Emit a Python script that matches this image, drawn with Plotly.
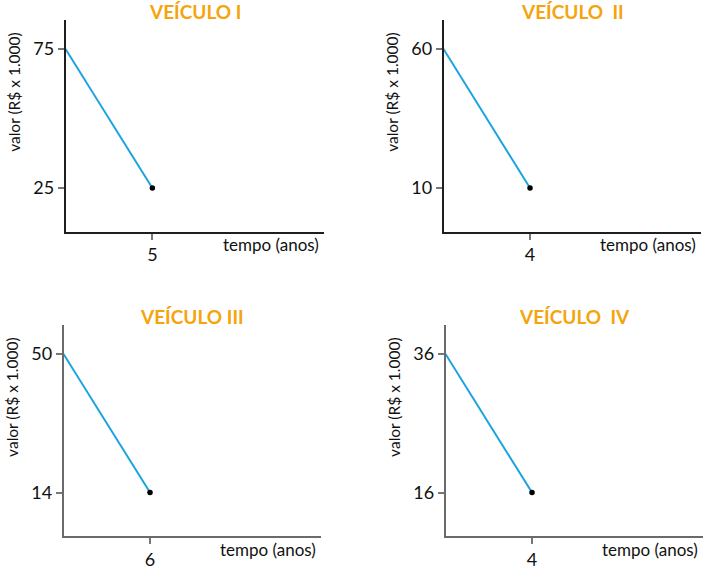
import plotly.graph_objects as go

# dados dos quatro veículos
veiculos = ["VEÍCULO I", "VEÍCULO  II", "VEÍCULO III", "VEÍCULO  IV"]
valor_inicial = [75, 60, 50, 36]
valor_final = [25, 10, 14, 16]
tempo_final = [5, 4, 6, 4]

W, H = 704, 570
# caixas de cada painel em pixels (esquerda, direita, topo, base)
caixas = [(65.5, 324, 20, 236), (443.5, 701, 20, 236),
          (63.5, 321, 330.5, 546), (445.5, 703, 330.5, 546)]
cores_eixo = ["#1e1e1e", "#1e1e1e", "#6a6a6a", "#6a6a6a"]
frac_x = 0.336
frac_lo, frac_hi = 0.207, 0.862

fonte = "Lato"

fig = go.Figure()
anot = []

for i in range(4):
    xa = "x" if i == 0 else f"x{i+1}"
    ya = "y" if i == 0 else f"y{i+1}"
    e, d, t, b = caixas[i]
    v0, v1, tf = valor_inicial[i], valor_final[i], tempo_final[i]

    fig.add_trace(go.Scatter(
        x=[0, tf], y=[v0, v1], mode="lines",
        line=dict(color="#1ba3e0", width=2),
        xaxis=xa, yaxis=ya, showlegend=False, hoverinfo="skip"))
    fig.add_trace(go.Scatter(
        x=[tf], y=[v1], mode="markers",
        marker=dict(color="black", size=5.5),
        xaxis=xa, yaxis=ya, showlegend=False, hoverinfo="skip"))

    escala = (v0 - v1) / (frac_hi - frac_lo)
    ymin = v1 - frac_lo * escala
    ymax = ymin + escala
    xmax = tf / frac_x

    eixo = dict(showgrid=False, zeroline=False, showline=True, linecolor=cores_eixo[i],
                linewidth=1.5, ticks="outside", ticklen=6, tickcolor="#777",
                tickwidth=1.5, tickfont=dict(family=fonte, size=18, color="#111"),
                fixedrange=True)
    fig.update_layout({
        ("xaxis" if i == 0 else f"xaxis{i+1}"): dict(
            eixo, domain=[e / W, d / W], range=[0, xmax],
            tickvals=[tf], anchor=ya),
        ("yaxis" if i == 0 else f"yaxis{i+1}"): dict(
            eixo, domain=[1 - b / H, 1 - t / H], range=[ymin, ymax],
            tickvals=[v1, v0], anchor=xa),
    })

    # título do painel
    anot.append(dict(text="<b>" + veiculos[i].replace(" ", "&nbsp;") + "</b>",
                     x=(e + d) / 2 / W, y=1 - (t - 8) / H, xref="paper", yref="paper",
                     xanchor="center", yanchor="middle", showarrow=False,
                     font=dict(family=fonte, size=19, color="#f5a40c")))
    # rótulo do eixo y
    anot.append(dict(text="valor (R$ x 1.000)", textangle=-90,
                     x=(e - 51) / W, y=1 - (t + 74) / H, xref="paper", yref="paper",
                     xanchor="center", yanchor="middle", showarrow=False,
                     font=dict(family=fonte, size=15.5, color="#111")))
    # rótulo do eixo x
    anot.append(dict(text="tempo (anos)",
                     x=(d - 3) / W, y=1 - (b + 13) / H, xref="paper", yref="paper",
                     xanchor="right", yanchor="middle", showarrow=False,
                     font=dict(family=fonte, size=17, color="#111")))

fig.update_layout(
    width=W, height=H,
    margin=dict(l=0, r=0, t=0, b=0),
    plot_bgcolor="white", paper_bgcolor="white",
    annotations=anot,
)

# tira a margem padrão do body para o gráfico ocupar a janela toda
fig.write_html("out.html", config={"displayModeBar": False},
               post_script="document.body.style.margin='0';")
